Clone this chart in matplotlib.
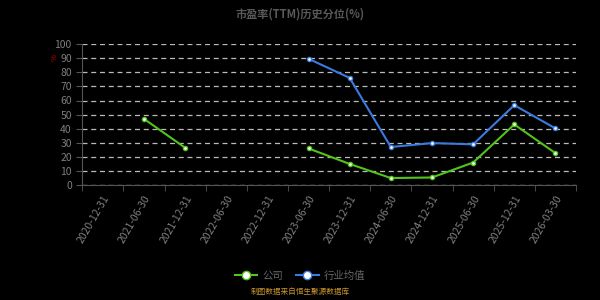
import numpy as np
import matplotlib.pyplot as plt

plt.rcParams['font.family'] = ['Noto Sans CJK SC', 'DejaVu Sans']

# data
dates = ["2020-12-31", "2021-06-30", "2021-12-31", "2022-06-30", "2022-12-31", "2023-06-30",
         "2023-12-31", "2024-06-30", "2024-12-31", "2025-06-30", "2025-12-31", "2026-03-30"]
company = [np.nan, 47, 26.5, np.nan, np.nan, 26, 15, 5, 5.4, 16, 43, 22.7]
industry = [np.nan, np.nan, np.nan, np.nan, np.nan, 89.6, 76, 27, 29.8, 28.9, 56.7, 40.2]

green = "#52c41a"
blue = "#3a7be0"
grey = "#7f7f7f"

fig = plt.figure(figsize=(6, 3), dpi=100, facecolor="black")
ax = fig.add_axes([0.137, 0.383, 0.823, 0.47])
ax.set_facecolor("black")

x = np.arange(len(dates))
ax.plot(x, company, color=green, lw=1.5, marker="o", ms=3,
        mfc="white", mec=green, mew=1, label="公司")
ax.plot(x, industry, color=blue, lw=1.5, marker="o", ms=3,
        mfc="white", mec=blue, mew=1, label="行业均值")

ax.set_xlim(-0.5, len(dates) - 0.5)
ax.set_ylim(0, 100)
ax.set_yticks(range(0, 101, 10))
ax.yaxis.grid(True, color="#bbbbbb", ls=(0, (4, 3)), lw=0.9)
ax.set_axisbelow(True)

ax.set_xticks(x)
ax.set_xticklabels(dates, rotation=60, ha="right", rotation_mode="anchor")
ax.set_xticks(np.arange(-0.5, len(dates)), minor=True)
ax.tick_params(axis="x", which="major", length=0, pad=6, labelsize=7.5, colors=grey)
ax.tick_params(axis="x", which="minor", length=4, color="#555555")
ax.tick_params(axis="y", length=4, color="#555555", labelsize=7.5, labelcolor=grey)

for s in ["top", "right"]:
    ax.spines[s].set_visible(False)
for s in ["left", "bottom"]:
    ax.spines[s].set_color("#555555")

fig.text(0.5, 0.975, "市盈率(TTM)历史分位(%)", ha="center", va="top",
         color="#595959", fontsize=8, fontweight="bold")
fig.text(0.092, 0.807, "%", ha="center", va="center", rotation=90,
         color="#cc0000", fontsize=5.5)

leg = fig.legend(loc="center", bbox_to_anchor=(0.5, 0.08), ncol=2, frameon=False,
                 fontsize=7.5, labelcolor="#666666", handlelength=2.2,
                 columnspacing=1.2, handletextpad=0.5)
for h in leg.legend_handles:
    h.set_markersize(6)

fig.text(0.5, 0.015, "制图数据来自恒生聚源数据库", ha="center", va="bottom",
         color="#c8952a", fontsize=5.5)

fig.savefig("out.png", dpi=100, facecolor="black")
